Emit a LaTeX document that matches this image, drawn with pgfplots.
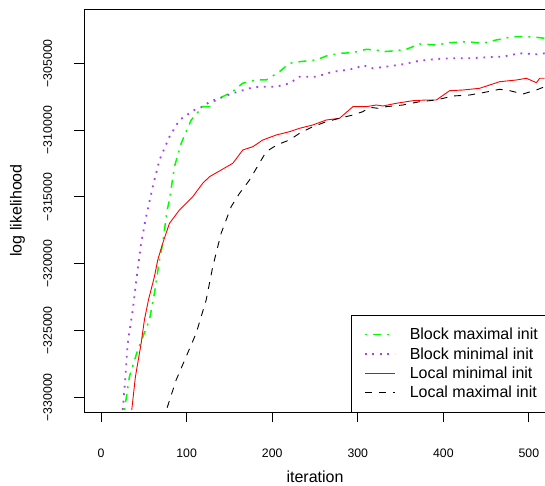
\documentclass[border=0pt]{standalone}
\usepackage{pgfplots}
\pgfplotsset{compat=1.18}
\usepackage{fontspec}
\setmainfont{Liberation Sans}
\definecolor{rgreen}{RGB}{0,255,0}
\definecolor{rpurple}{RGB}{166,64,240}
\newcommand{\tickfont}{\fontsize{12.3}{12.3}\selectfont}
\newcommand{\labfont}{\fontsize{16}{16}\selectfont}

\begin{document}
\begin{tikzpicture}
\begin{axis}[
  at={(0pt,0pt)}, anchor=south west,
  scale only axis, width=462pt, height=403pt,
  xmin=-20, xmax=520, ymin=-331100, ymax=-300936,
  scaled x ticks=false, scaled y ticks=false,
  xtick={0,100,200,300,400,500},
  xticklabels={0,100,200,300,400,500},
  ytick={-330000,-325000,-320000,-315000,-310000,-305000},
  yticklabels={−330000,−325000,−320000,−315000,−310000,−305000},
  xtick pos=bottom, ytick pos=left,
  tick align=outside, major tick length=10pt,
  every tick/.style={black, line width=0.8pt},
  axis line style={line width=0.8pt},
  xticklabel style={font=\tickfont, inner sep=0pt, anchor=base, yshift=-35.7pt},
  yticklabel style={font=\tickfont, inner sep=0pt, xshift=-22pt, rotate=90, anchor=base},
  xlabel={iteration}, ylabel={log likelihood},
  every axis x label/.style={at={([yshift=-70.5pt]rel axis cs:0.5,0)}, anchor=base, font=\labfont, inner sep=0pt},
  every axis y label/.style={at={([xshift=-62.4pt]rel axis cs:0,0.5)}, rotate=90, anchor=base, font=\labfont, inner sep=0pt},
  legend cell align=left,
  legend style={at={(rel axis cs:1,0)}, anchor=south east, draw=black, fill=white,
    inner xsep=8pt, inner ysep=11pt, row sep=2.3pt, font=\labfont,
    nodes={inner xsep=0pt, inner ysep=0pt, text height=14pt, text depth=3pt}},
  legend image code/.code={\path[draw=none] (0pt,0pt) -- (50.3pt,0pt);
    \draw (5.3pt,0pt) -- (35.3pt,0pt);},
]
% Block maximal init
\addplot[rgreen, line width=1.5pt, dash pattern=on 2pt off 6pt on 8pt off 6pt] coordinates {
(27.3,-330951) (33.1,-328458) (42.8,-326459) (56.5,-324214) (62.3,-322216)
(68.2,-319723) (72.0,-318473) (77.2,-315981) (79.9,-315232) (85.7,-312739)
(93.6,-310988) (105.3,-309244) (118.8,-308248) (126.7,-308248) (134.5,-307747)
(138.4,-307620) (153.6,-307126) (165.3,-306497) (181.3,-306250) (193.0,-306250)
(208.5,-305629) (220.2,-305000) (232.0,-304880) (251.5,-304753) (263.2,-304454)
(278.7,-304252) (294.3,-304207) (309.9,-303952) (321.6,-304005) (329.4,-304132)
(345.0,-304057) (356.7,-303952) (372.3,-303555) (391.8,-303630) (407.4,-303458)
(426.9,-303383) (446.3,-303503) (462.0,-303256) (481.4,-303009) (497.1,-303009)
(508.8,-303054) (518.5,-303129)
};
\addlegendentry{Block maximal init}
% Block minimal init
\addplot[rpurple, line width=1.8pt, dash pattern=on 1.8pt off 5.7pt] coordinates {
(25.3,-330951) (28.4,-328480) (31.1,-325936) (37.0,-323466) (41.6,-320995)
(46.8,-318451) (52.6,-316482) (60.4,-314236) (68.2,-312238) (79.9,-310494)
(91.6,-309244) (109.1,-308496) (120.8,-308196) (126.7,-307874) (138.4,-307620)
(153.6,-307245) (173.5,-306871) (185.2,-306751) (204.7,-306751) (220.2,-306497)
(232.0,-306003) (251.5,-306003) (270.9,-305629) (286.5,-305502) (298.2,-305374)
(305.6,-305127) (317.3,-305374) (333.3,-305254) (352.4,-305075) (372.3,-304806)
(391.8,-304678) (411.2,-304626) (430.8,-304626) (450.3,-304551) (469.4,-304506)
(489.2,-304252) (508.8,-304327) (518.5,-304252)
};
\addlegendentry{Block minimal init}
% Local minimal init
\addplot[red, line width=0.9pt] coordinates {
(35.8,-330951) (40.1,-328458) (46.8,-325958) (50.6,-324214) (55.3,-322717)
(62.3,-320973) (66.2,-319723) (72.0,-318473) (79.9,-316976) (85.7,-316482)
(91.6,-315981) (107.1,-314985) (118.8,-313982) (126.7,-313488) (140.3,-312987)
(153.9,-312486) (165.6,-311490) (177.3,-311243) (189.0,-310741) (204.7,-310367)
(220.2,-310120) (232.0,-309866) (247.5,-309618) (263.2,-309244) (278.7,-309117)
(294.3,-308248) (309.9,-308248) (321.6,-308121) (329.4,-308196) (345.0,-307994)
(364.5,-307800) (380.1,-307747) (391.8,-307747) (407.4,-307051) (422.9,-307000)
(442.4,-306872) (465.9,-306377) (485.4,-306250) (497.1,-306123) (508.8,-306452)
(512.6,-306123) (518.5,-306123)
};
\addlegendentry{Local minimal init}
% Local maximal init
\addplot[black, line width=0.9pt, dash pattern=on 7pt off 7pt] coordinates {
(77.2,-330778) (87.7,-328705) (111.1,-325210) (122.8,-322717) (130.5,-320224)
(140.3,-317724) (152.0,-315733) (161.8,-314731) (167.6,-314237) (173.5,-313735)
(185.1,-312463) (193.0,-311617) (205.6,-311100) (220.2,-310741) (232.0,-310239)
(247.5,-309745) (263.2,-309371) (278.7,-309117) (294.3,-308870) (305.9,-308623)
(313.8,-308293) (323.5,-308368) (333.3,-308248) (352.8,-308121) (372.3,-307874)
(391.8,-307747) (411.2,-307448) (430.8,-307373) (446.3,-307201) (465.9,-306946)
(477.6,-307051) (493.1,-307298) (508.8,-306998) (518.5,-306751)
};
\addlegendentry{Local maximal init}
\end{axis}
\pgfresetboundingbox
\useasboundingbox ([shift={(-84pt,-74pt)}]current axis.south west) rectangle ([shift={(-1pt,9pt)}]current axis.north east);
\end{tikzpicture}
\end{document}
